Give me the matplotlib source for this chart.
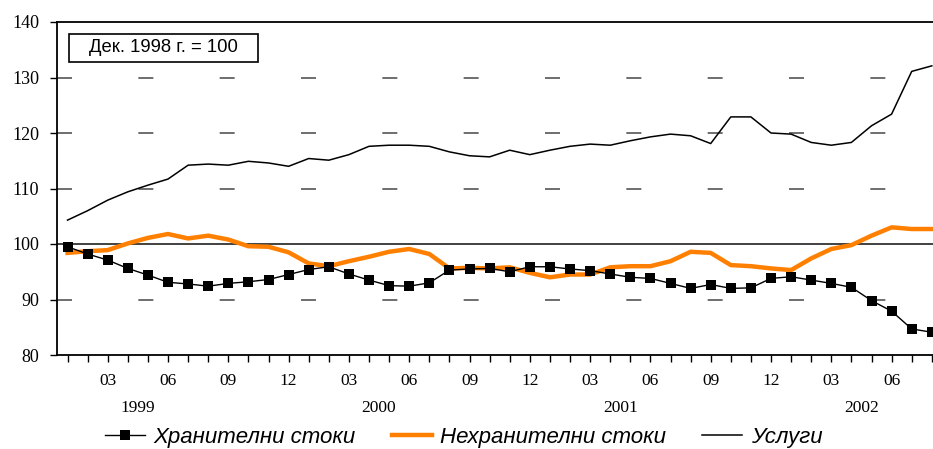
import matplotlib
matplotlib.use("Agg")
import matplotlib.pyplot as plt
from matplotlib.patches import Rectangle
from matplotlib.lines import Line2D
import numpy as np

# Months Jan 1999 .. Aug 2002 (index 1..44)
months = list(range(1, 45))

food = [99.5, 98.2, 97.1, 95.6, 94.4, 93.1, 92.8, 92.4, 92.9, 93.2, 93.6, 94.5,
        95.4, 95.9, 94.6, 93.5, 92.5, 92.4, 93.0, 95.3, 95.5, 95.6, 95.0, 95.9,
        95.9, 95.5, 95.2, 94.6, 94.0, 93.8, 92.9, 92.0, 92.7, 92.0, 92.1, 93.8,
        94.1, 93.5, 92.9, 92.2, 89.8, 87.9, 84.7, 84.1]

nonfood = [98.4, 98.7, 98.9, 100.1, 101.1, 101.8, 101.0, 101.5, 100.8, 99.6, 99.5, 98.5,
           96.5, 96.0, 96.9, 97.7, 98.6, 99.1, 98.2, 95.6, 95.7, 95.6, 95.8, 94.8,
           94.0, 94.5, 94.5, 95.8, 96.0, 96.0, 96.9, 98.6, 98.4, 96.2, 96.0, 95.6,
           95.3, 97.4, 99.1, 99.8, 101.5, 103.0, 102.7, 102.7]

services = [104.3, 106.0, 107.9, 109.4, 110.6, 111.7, 114.2, 114.4, 114.2, 114.9, 114.6, 114.0,
            115.4, 115.1, 116.1, 117.6, 117.8, 117.8, 117.6, 116.6, 115.9, 115.7, 116.9, 116.1,
            116.9, 117.6, 118.0, 117.8, 118.6, 119.3, 119.8, 119.5, 118.1, 122.9, 122.9, 120.0,
            119.8, 118.3, 117.8, 118.3, 121.3, 123.4, 131.1, 132.1]

month_labels = ["03", "06", "09", "12"]
years = ["1999", "2000", "2001", "2002"]
series_names = ["Хранителни стоки", "Нехранителни стоки", "Услуги"]
base_note = "Дек. 1998 г. = 100"

W, H = 933, 449
fig = plt.figure(figsize=(W / 100, H / 100), dpi=100)
ax = fig.add_axes([57 / W, 1 - 355 / H, 1 - 57 / W, (355 - 22) / H])

serif = "Liberation Serif"
sans = "Liberation Sans"

# grid lines (short dashes)
for g in [90, 110, 120, 130]:
    ax.axhline(g, color="#555555", lw=1.2, dashes=(9, 39.8), zorder=1)
ax.axhline(100, color="#333333", lw=1.3, zorder=1)

ax.plot(months, services, color="black", lw=1.1, zorder=3)
ax.plot(months, nonfood, color="#ff8000", lw=3.2, zorder=4, solid_joinstyle="round")
ax.plot(months, food, color="black", lw=1.0, marker="s", markersize=7.4,
        markeredgewidth=0, zorder=5, clip_on=False)

ax.set_ylim(80, 140)
ax.set_xlim(1 - 10.5 / 20.1, 1 + 865.5 / 20.1)
yt = [80, 90, 100, 110, 120, 130, 140]
ax.set_yticks(yt)
ax.set_yticklabels([str(v) for v in yt], fontfamily=serif, fontsize=13)

ax.set_xticks(months)
xt = []
for m in months:
    mm = (m - 1) % 12 + 1
    lab = "%02d" % mm
    xt.append(lab if lab in month_labels else "")
ax.set_xticklabels(xt, fontfamily=serif, fontsize=12.5)
ax.tick_params(axis="x", direction="out", length=5, width=1, pad=8)
ax.tick_params(axis="y", direction="out", length=5, width=1, pad=8)

for i, y in enumerate(years):
    ax.text(4.5 + 12 * i, -0.16, y, transform=ax.get_xaxis_transform(),
            ha="center", va="center", fontfamily=serif, fontsize=12.5)

ax.spines["right"].set_visible(False)
for s in ["left", "bottom", "top"]:
    ax.spines[s].set_linewidth(1.3)

# base note box
fig.patches.append(Rectangle((69 / W, 1 - 62 / H), 189 / W, 28 / H,
                             transform=fig.transFigure, fill=False,
                             edgecolor="black", lw=1.2, figure=fig))
fig.text((69 + 189 / 2) / W, 1 - 48 / H, base_note, ha="center", va="center",
         fontfamily=sans, fontsize=13.3)

handles = [
    Line2D([], [], color="black", lw=1.0, marker="s", markersize=7.4, markeredgewidth=0),
    Line2D([], [], color="#ff8000", lw=3.2),
    Line2D([], [], color="black", lw=1.1),
]
fig.legend(handles, series_names, loc="center", bbox_to_anchor=(0.497, 0.026),
           ncol=3, frameon=False, prop={"family": sans, "style": "italic", "size": 16},
           handlelength=1.8, handletextpad=0.4, columnspacing=1.6, borderpad=0)

fig.savefig("out.png", dpi=100)
